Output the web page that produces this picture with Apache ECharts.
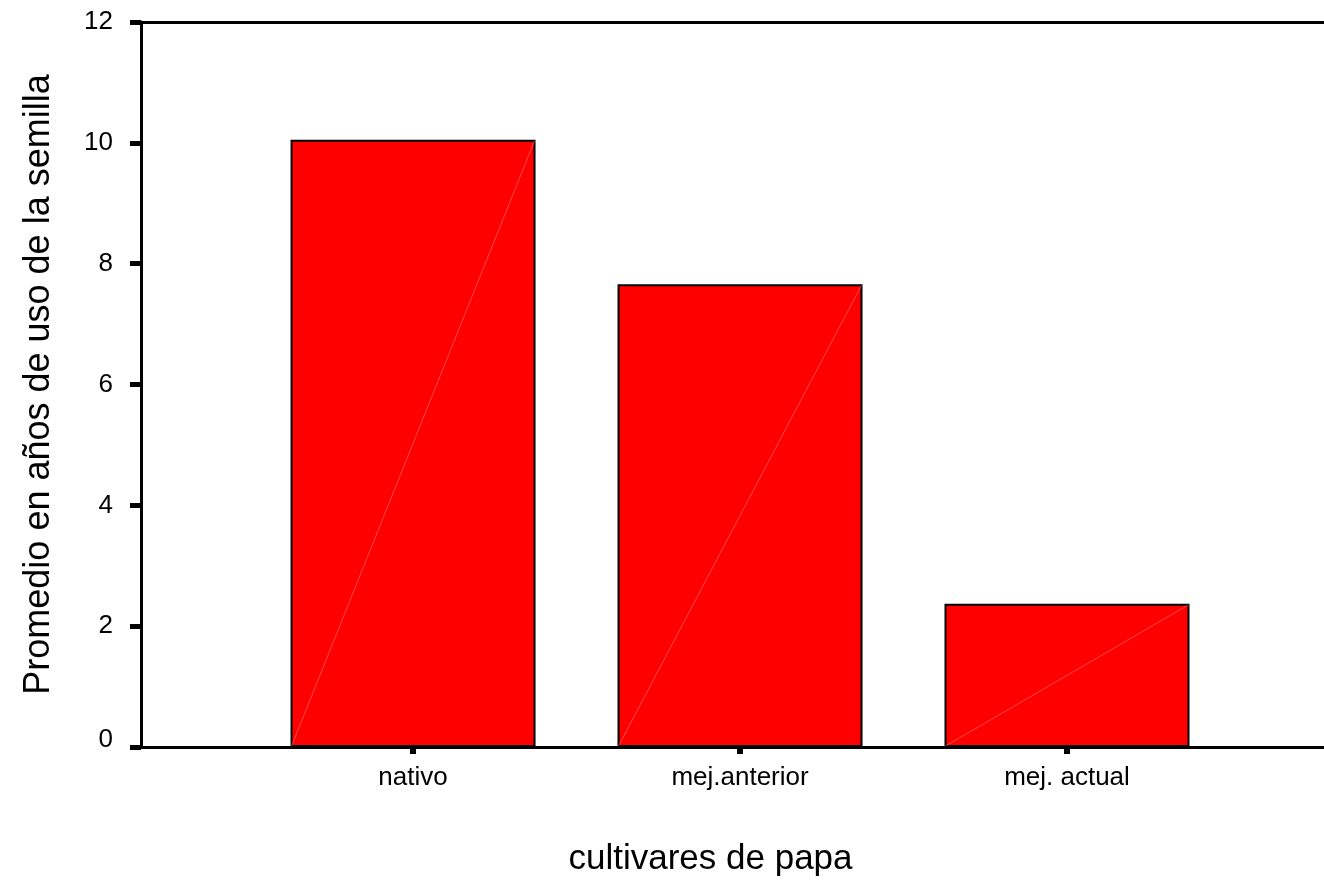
<!DOCTYPE html>
<html>
<head>
<meta charset="utf-8">
<script src="https://cdn.jsdelivr.net/npm/echarts@6/dist/echarts.min.js"></script>
<style>
html,body{margin:0;padding:0;background:#fff;}
#c{width:1324px;height:882px;}
</style>
</head>
<body>
<div id="c"></div>
<script>
// Data
const categories = ['nativo', 'mej.anterior', 'mej. actual'];
const positions = [1, 2, 3];
const values = [10.05, 7.66, 2.37];
const yTicks = [0, 2, 4, 6, 8, 10, 12];
const xTitle = 'cultivares de papa';
const yTitle = 'Promedio en años de uso de la semilla';

const FONT = 'Liberation Sans, Arial, sans-serif';
const BAR_W = 245;

const barData = positions.map((p, i) => [p, values[i]]);

const chart = echarts.init(document.getElementById('c'), null, {renderer: 'canvas'});
chart.setOption({
  backgroundColor: '#fff',
  animation: false,
  grid: {left: 141, right: 0, top: 22, bottom: 133, containLabel: false},
  xAxis: [{
    type: 'value',
    position: 'bottom',
    min: 0.168, max: 3.786,
    name: xTitle,
    nameLocation: 'middle',
    nameGap: 95,
    nameTextStyle: {fontFamily: FONT, fontSize: 35, color: '#000', padding: [0, 44, 0, 0]},
    axisLine: {show: true, onZero: false, lineStyle: {color: '#000', width: 3}},
    axisTick: {show: true, inside: false, length: 7, customValues: positions, lineStyle: {color: '#000', width: 6}},
    axisLabel: {
      show: true, margin: 18, customValues: positions,
      fontFamily: FONT, fontSize: 26, color: '#000',
      formatter: v => categories[positions.indexOf(Math.round(v))] || ''
    },
    splitLine: {show: false}
  }, {
    type: 'value',
    position: 'top',
    min: 0.168, max: 3.786,
    axisLine: {show: true, onZero: false, lineStyle: {color: '#000', width: 3}},
    axisTick: {show: false},
    axisLabel: {show: false},
    splitLine: {show: false}
  }],
  yAxis: {
    type: 'value',
    min: 0, max: 12, interval: 2,
    name: yTitle,
    nameLocation: 'middle',
    nameGap: 84,
    nameTextStyle: {fontFamily: FONT, fontSize: 36, color: '#000'},
    axisLine: {show: true, lineStyle: {color: '#000', width: 3}},
    axisTick: {show: true, inside: false, length: 11, lineStyle: {color: '#000', width: 5}},
    axisLabel: {
      margin: 28, fontFamily: FONT, fontSize: 26, color: '#000',
      formatter: v => v === 0 ? '{z|0}' : String(v),
      rich: {z: {fontFamily: FONT, fontSize: 26, color: '#000', padding: [0, 0, 14, 0]}}
    },
    splitLine: {show: false}
  },
  series: [{
    type: 'bar',
    xAxisIndex: 0,
    data: barData,
    barWidth: BAR_W,
    itemStyle: {color: '#ff0000', borderColor: '#000', borderWidth: 2}
  }, {
    type: 'custom',
    xAxisIndex: 0,
    data: barData,
    z: 5,
    renderItem: function (params, api) {
      const x = api.value(0), y = api.value(1);
      const p0 = api.coord([x, 0]);
      const p1 = api.coord([x, y]);
      const h = BAR_W / 2 - 1;
      return {
        type: 'line',
        shape: {x1: p0[0] - h, y1: p0[1] - 1, x2: p0[0] + h, y2: p1[1] + 1},
        style: {stroke: 'rgba(255,140,140,0.75)', lineWidth: 0.7}
      };
    }
  }]
});
</script>
</body>
</html>
